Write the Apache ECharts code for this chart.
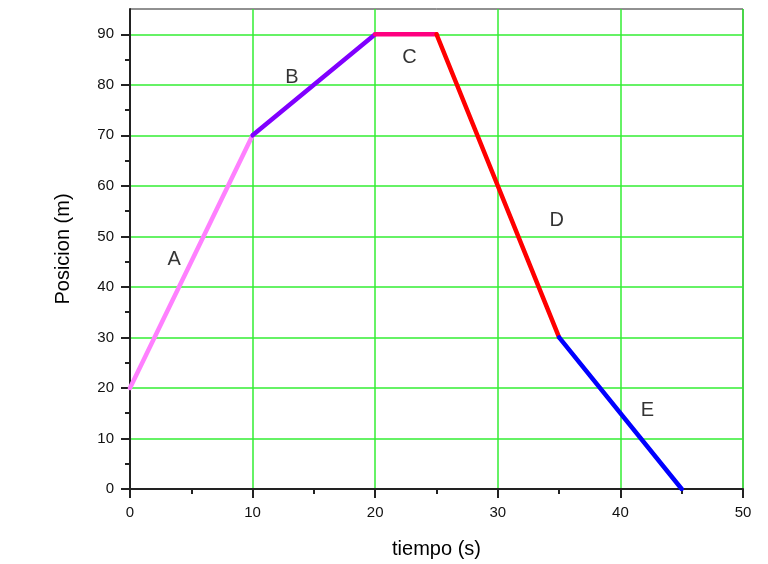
<!DOCTYPE html>
<html>
<head>
<meta charset="utf-8">
<script src="https://cdn.jsdelivr.net/npm/echarts@6/dist/echarts.min.js"></script>
<style>html,body{margin:0;padding:0;background:#fff}#chart{width:768px;height:564px}</style>
</head>
<body>
<div id="chart"></div>
<script>
var segA = [[0, 20], [10, 70]];
var segB = [[10, 70], [20, 90]];
var segC = [[20, 90], [25, 90]];
var segD = [[25, 90], [35, 30]];
var segE = [[35, 30], [45, 0]];
var segNames = ['A', 'B', 'C', 'D', 'E'];
var segColors = ['#ff80ff', '#8000ff', '#ff0080', '#ff0000', '#0000ff'];
var labelPos = [[3.6, 45.4], [13.2, 81.5], [22.8, 85.5], [34.8, 53.1], [42.2, 15.6]];
var yTicks = [0, 10, 20, 30, 40, 50, 60, 70, 80, 90];

var chart = echarts.init(document.getElementById('chart'));
var segs = [segA, segB, segC, segD, segE];
var series = [];
function each(arr, fn) { for (var i = 0; i < arr.length; i++) fn(i, arr[i]); }
each(segs, function (i, d) {
	series.push({
		name: segNames[i],
		type: 'line',
		data: d,
		symbol: 'none',
		lineStyle: { color: segColors[i], width: 4.5, cap: 'round' },
		z: 3
	});
});
var labelData = [];
each(labelPos, function (i, p) {
	labelData.push({ name: segNames[i], value: p });
});
series.push({
	type: 'scatter',
	data: labelData,
	symbolSize: 1,
	itemStyle: { color: 'rgba(0,0,0,0)' },
	label: {
		show: true, position: 'inside', formatter: '{b}',
		color: '#000', fontSize: 20, fontFamily: 'Liberation Sans'
	},
	z: 4
});

chart.setOption({
	animation: false,
	textStyle: { fontFamily: 'Liberation Sans' },
	grid: {
		left: 130, right: 25, top: 9, bottom: 75,
		show: true, borderColor: '#222', borderWidth: 1
	},
	xAxis: {
		type: 'value', min: 0, max: 50, interval: 10,
		name: 'tiempo (s)', nameLocation: 'middle', nameGap: 50,
		nameTextStyle: { fontSize: 20, color: '#000' },
		axisLine: { show: true, onZero: false, lineStyle: { color: '#222', width: 2 } },
		axisTick: { show: true, length: 9, lineStyle: { color: '#222', width: 2 } },
		minorTick: { show: true, splitNumber: 2, length: 5, lineStyle: { color: '#222', width: 2 } },
		axisLabel: { fontSize: 15, color: '#111', margin: 16 },
		splitLine: { show: true, lineStyle: { color: '#33ee33', width: 1.5 } }
	},
	yAxis: {
		type: 'value', min: 0, max: 95, interval: 10,
		name: 'Posicion (m)', nameLocation: 'middle', nameGap: 57,
		nameTextStyle: { fontSize: 20, color: '#000' },
		axisLine: { show: true, onZero: false, lineStyle: { color: '#222', width: 2 } },
		axisTick: { show: true, length: 9, customValues: yTicks, lineStyle: { color: '#222', width: 2 } },
		minorTick: { show: true, splitNumber: 2, length: 5, lineStyle: { color: '#222', width: 2 } },
		axisLabel: { fontSize: 15, color: '#111', margin: 16, customValues: yTicks },
		splitLine: { show: true, lineStyle: { color: '#33ee33', width: 1.5 } }
	},
	series: series
});
</script>
</body>
</html>
